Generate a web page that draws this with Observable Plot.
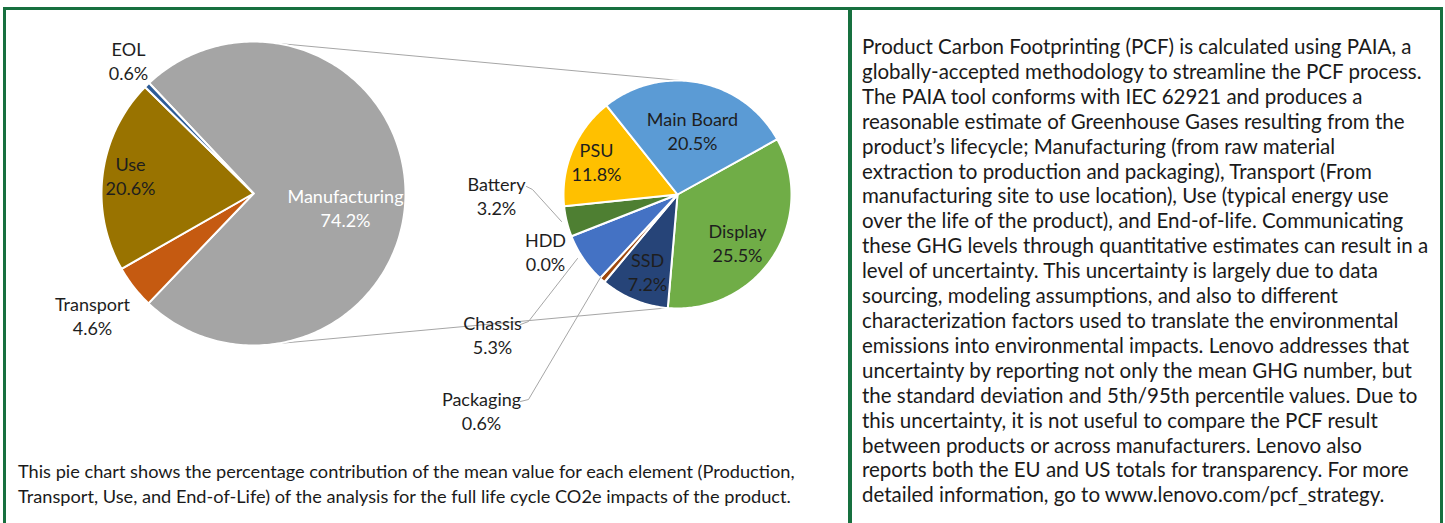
<!DOCTYPE html>
<html>
<head>
<meta charset="utf-8">
<script src="https://cdn.jsdelivr.net/npm/d3@7"></script>
<script src="https://cdn.jsdelivr.net/npm/@observablehq/plot@0.6"></script>
<style>
  html, body { margin: 0; padding: 0; background: #fff; }
  body { width: 1445px; height: 523px; position: relative; overflow: hidden; font-family: Lato, "Open Sans", sans-serif; color: #1a1a1a; }
  .box { position: absolute; border: 3px solid #17703f; border-bottom: none; box-sizing: border-box; }
  #chart { position: absolute; left: 0; top: 0; }
  .para { position: absolute; white-space: nowrap; }
  .para div { white-space: nowrap; }
</style>
</head>
<body>
<div class="box" style="left:3px; top:7px; width:848px; height:530px;"></div>
<div class="box" style="left:848px; top:7px; width:595px; height:530px; border-left-width:4px;"></div>
<div id="chart"></div>
<div id="caption" class="para" style="left:18px; top:459px; font-size:18.2px; line-height:25px;"></div>
<div id="info" class="para" style="left:862px; top:34px; font-size:20.5px; line-height:24.9px;"></div>
<script>
// ---- data ----
const lifeNames = ["Manufacturing", "Transport", "Use", "EOL"];
const lifeValues = [74.2, 4.6, 20.6, 0.6];
const lifeColors = ["#a5a5a5", "#c55a11", "#997300", "#2e5c96"];

const partNames = ["Display", "SSD", "Packaging", "Chassis", "HDD", "Battery", "PSU", "Main Board"];
const partValues = [25.5, 7.2, 0.6, 5.3, 0.0, 3.2, 11.8, 20.5];
const partColors = ["#70ad47", "#264478", "#9e480e", "#4472c4", "#636363", "#4e7f32", "#ffc000", "#5b9bd5"];

const captionLines = [
  "This pie chart shows the percentage contribution of the mean value for each element (Production,",
  "Transport, Use, and End-of-Life) of the analysis for the full life cycle CO2e impacts of the product."
];
const infoLines = [
  "Product Carbon Footprinting (PCF) is calculated using PAIA, a",
  "globally-accepted methodology to streamline the PCF process.",
  "The PAIA tool conforms with IEC 62921 and produces a",
  "reasonable estimate of Greenhouse Gases resulting from the",
  "product’s lifecycle; Manufacturing (from raw material",
  "extraction to production and packaging), Transport (From",
  "manufacturing site to use location), Use (typical energy use",
  "over the life of the product), and End-of-life. Communicating",
  "these GHG levels through quantitative estimates can result in a",
  "level of uncertainty. This uncertainty is largely due to data",
  "sourcing, modeling assumptions, and also to different",
  "characterization factors used to translate the environmental",
  "emissions into environmental impacts. Lenovo addresses that",
  "uncertainty by reporting not only the mean GHG number, but",
  "the standard deviation and 5th/95th percentile values. Due to",
  "this uncertainty, it is not useful to compare the PCF result",
  "between products or across manufacturers. Lenovo also",
  "reports both the EU and US totals for transparency. For more",
  "detailed information, go to www.lenovo.com/pcf_strategy."
];

// ---- layout ----
const W = 848, H = 445;
const big = {cx: 253, cy: 193, r: 152, start: -43.4};
const small = {cx: 677, cy: 194, r: 114, start: 61};
const labelAt = {
  "EOL": [128, 60], "Use": [130, 175], "Manufacturing": [345, 207], "Transport": [92, 315],
  "Main Board": [692, 130], "PSU": [596, 161], "Display": [737, 242], "SSD": [647, 271],
  "Battery": [496, 195], "HDD": [545, 251], "Chassis": [492, 334], "Packaging": [481, 410]
};
const leaders = {
  "Battery": [[526, 186], [532, 189], [561, 221]],
  "Chassis": [[520, 324], [528, 321], [577, 258]],
  "Packaging": [[520, 401], [528, 399], [600, 277]]
};
const connectors = [{a1: 9, a2: 1.5}, {a1: 171, a2: 185.5}];

const rad = d => d * Math.PI / 180;
function slices(names, values, p) {
  const arcs = d3.pie().sort(null).startAngle(rad(p.start)).endAngle(rad(p.start) + 2 * Math.PI)(values);
  const pts = [];
  arcs.forEach((a, i) => {
    if (a.endAngle - a.startAngle <= 0) return;
    const name = names[i];
    pts.push({name, x: p.cx, y: p.cy});
    const n = Math.max(2, Math.ceil((a.endAngle - a.startAngle) / rad(1)));
    for (let k = 0; k <= n; k++) {
      const t = a.startAngle + (a.endAngle - a.startAngle) * k / n;
      pts.push({name, x: p.cx + p.r * Math.sin(t), y: p.cy - p.r * Math.cos(t)});
    }
  });
  return pts;
}
const pt = (p, deg) => [p.cx + p.r * Math.sin(rad(deg)), p.cy - p.r * Math.cos(rad(deg))];

const slicePts = [...slices(lifeNames, lifeValues, big), ...slices(partNames, partValues, small)];
const fmt = v => v.toFixed(1) + "%";
const labels = [
  ...lifeNames.map((n, i) => ({n, t: n + "\n" + fmt(lifeValues[i]), c: n === "Manufacturing" ? "#ffffff" : "#1e1e1e"})),
  ...partNames.map((n, i) => ({n, t: n + "\n" + fmt(partValues[i]), c: "#1e1e1e"}))
].map(d => ({...d, x: labelAt[d.n][0], y: labelAt[d.n][1]}));
const leaderPts = Object.entries(leaders).flatMap(([n, ps]) => ps.map(([x, y]) => ({n, x, y})));
const connLinks = connectors.map(c => {
  const [x1, y1] = pt(big, c.a1), [x2, y2] = pt(small, c.a2);
  return {x1, y1, x2, y2};
});

const chart = Plot.plot({
  width: W, height: H, margin: 0,
  style: {fontFamily: "Lato, 'Open Sans', sans-serif", background: "transparent"},
  x: {domain: [0, W], range: [0, W], axis: null},
  y: {domain: [0, H], range: [0, H], axis: null},
  color: {type: "ordinal", domain: [...lifeNames, ...partNames], range: [...lifeColors, ...partColors]},
  marks: [
    Plot.link(connLinks, {x1: "x1", y1: "y1", x2: "x2", y2: "y2", stroke: "#a6a6a6", strokeWidth: 1}),
    Plot.line(slicePts, {x: "x", y: "y", z: "name", fill: "name", stroke: "#ffffff", strokeWidth: 2, curve: "linear-closed"}),
    Plot.line(leaderPts, {x: "x", y: "y", z: "n", stroke: "#a6a6a6", strokeWidth: 1}),
    Plot.text(labels, {x: "x", y: "y", text: "t", fill: "c", fontSize: 18, lineHeight: 1.3, textAnchor: "middle", frameAnchor: "middle"})
  ]
});
document.getElementById("chart").appendChild(chart);

document.getElementById("caption").innerHTML = captionLines.map(s => `<div>${s}</div>`).join("");
document.getElementById("info").innerHTML = infoLines.map(s => `<div>${s}</div>`).join("");
</script>
</body>
</html>
